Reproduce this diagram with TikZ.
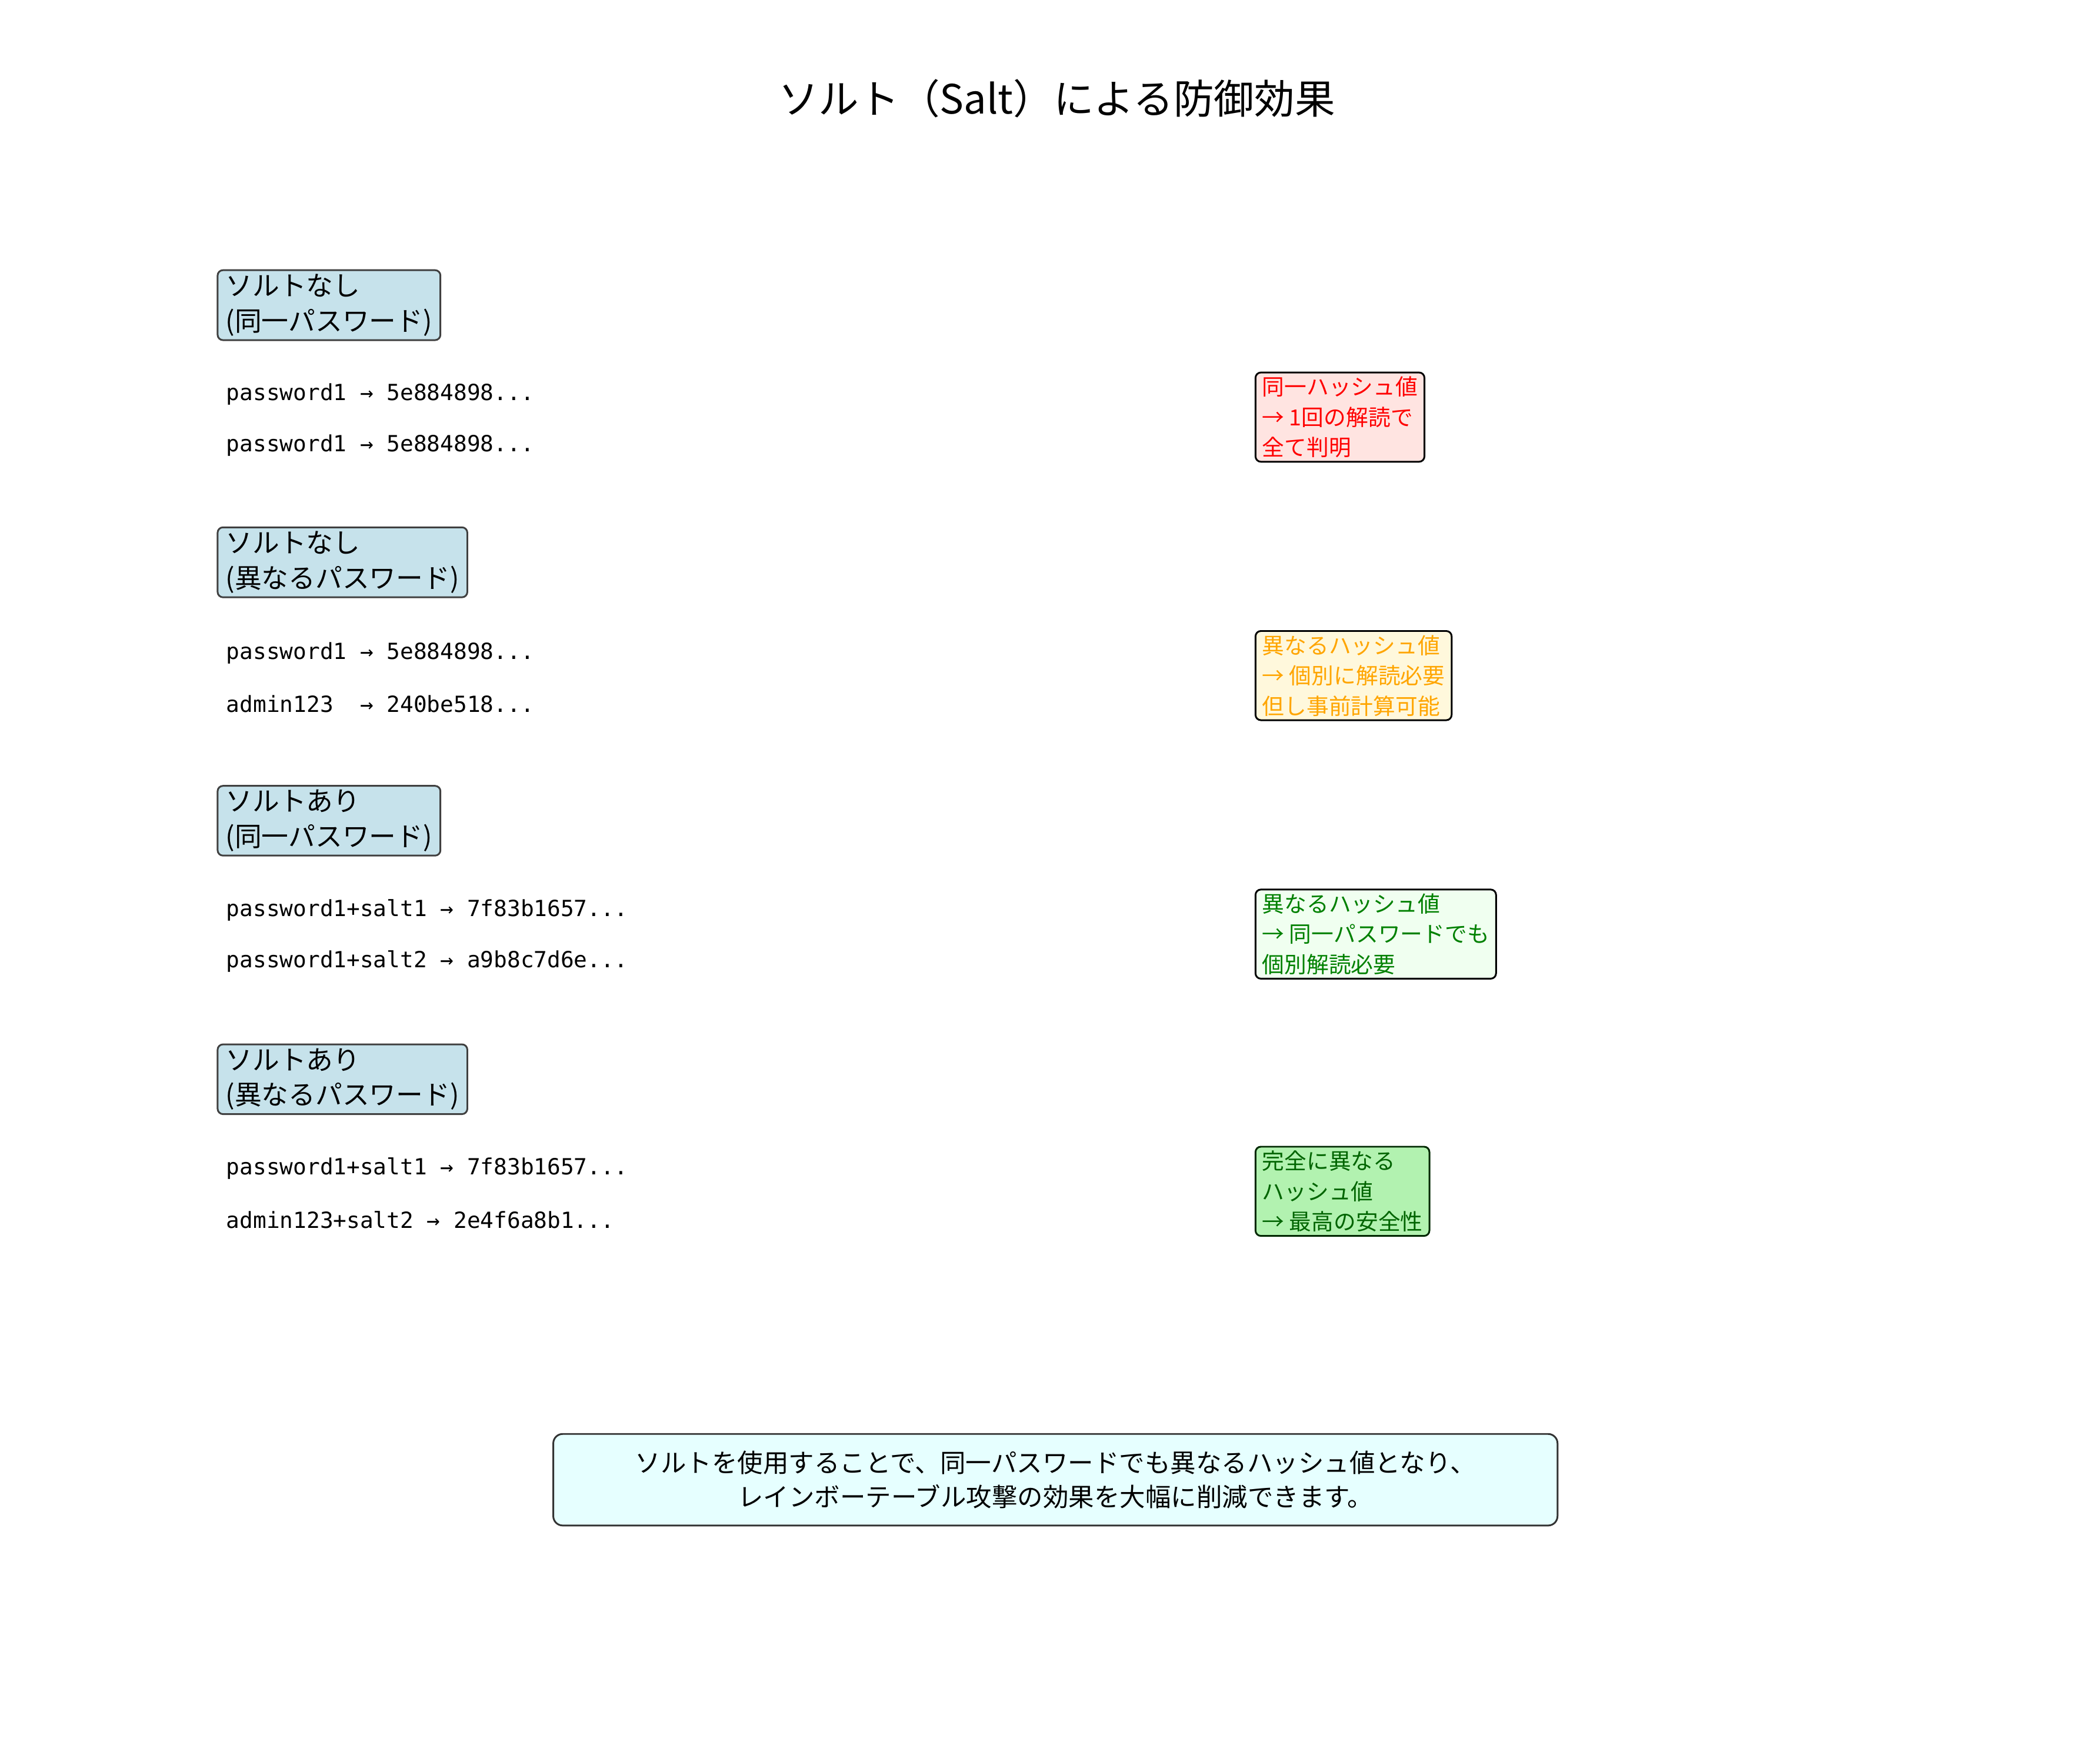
\documentclass[tikz,border=0pt]{standalone}
\usepackage{fontspec}
\setmainfont{Noto Sans CJK JP}
\setmonofont{DejaVu Sans Mono}
\begin{document}
\begin{tikzpicture}[x=1pt,y=-1pt,
  hdr/.style={draw=black!75,line width=1.3pt,rounded corners=4pt,fill=cyan!20!blue!5!white,fill=lbl,anchor=north west,align=left,inner xsep=6pt,inner ysep=3pt,font=\fontsize{20}{26}\selectfont},
  code/.style={anchor=west,font=\ttfamily\fontsize{16.5}{20}\selectfont,inner sep=0pt},
  res/.style={draw=black,line width=1.3pt,rounded corners=4pt,anchor=north west,align=left,inner xsep=5pt,inner ysep=3pt,font=\fontsize{16.5}{22.5}\selectfont}]
\definecolor{lbl}{HTML}{C6E2EB}
\definecolor{rf}{HTML}{FFE4E1}
\definecolor{of}{HTML}{FFF8DC}
\definecolor{oc}{HTML}{FFA500}
\definecolor{gf}{HTML}{F0FFF0}
\definecolor{gc}{HTML}{008000}
\definecolor{dgf}{HTML}{B2F2B0}
\definecolor{dgc}{HTML}{006400}
\definecolor{bf}{HTML}{E6FFFF}
\useasboundingbox (0,0) rectangle (1560,1298);
\node (title) at (785,73) {\fontsize{30}{36}\selectfont ソルト（Salt）による防御効果};
\node[hdr] (h1) at (161,200) {ソルトなし\\(同一パスワード)};
\node[hdr] (h2) at (161,391) {ソルトなし\\(異なるパスワード)};
\node[hdr] (h3) at (161,583) {ソルトあり\\(同一パスワード)};
\node[hdr] (h4) at (161,775) {ソルトあり\\(異なるパスワード)};
\node[code] (c1a) at (168,293) {password1 → 5e884898...};
\node[code] (c1b) at (168,331) {password1 → 5e884898...};
\node[code] (c2a) at (168,485) {password1 → 5e884898...};
\node[code] (c2b) at (168,523) {admin123\ \ → 240be518...};
\node[code] (c3a) at (168,676) {password1+salt1 → 7f83b1657...};
\node[code] (c3b) at (168,714) {password1+salt2 → a9b8c7d6e...};
\node[code] (c4a) at (168,868) {password1+salt1 → 7f83b1657...};
\node[code] (c4b) at (168,906) {admin123+salt2 → 2e4f6a8b1...};
\node[res,fill=rf,text=red] (r1) at (932,276) {同一ハッシュ値\\→ 1回の解読で\\全て判明};
\node[res,fill=of,text=oc] (r2) at (932,468) {異なるハッシュ値\\→ 個別に解読必要\\但し事前計算可能};
\node[res,fill=gf,text=gc] (r3) at (932,660) {異なるハッシュ値\\→ 同一パスワードでも\\個別解読必要};
\node[res,fill=dgf,text=dgc,draw=dgc!40!black] (r4) at (932,851) {完全に異なる\\ハッシュ値\\→ 最高の安全性};
\node[draw=black!80,line width=1.3pt,rounded corners=7pt,fill=bf,minimum width=746pt,minimum height=68pt,align=center,font=\fontsize{19}{25}\selectfont] (sum) at (784,1099) {ソルトを使用することで、同一パスワードでも異なるハッシュ値となり、\\レインボーテーブル攻撃の効果を大幅に削減できます。};
\end{tikzpicture}
\end{document}
